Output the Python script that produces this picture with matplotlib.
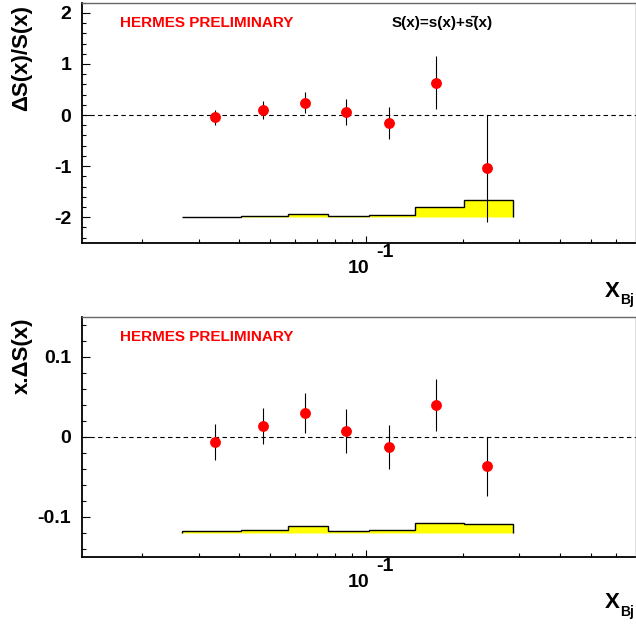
import matplotlib
matplotlib.use('Agg')
import matplotlib.pyplot as plt
from matplotlib.ticker import FixedLocator, NullFormatter, MultipleLocator, FuncFormatter

# data
x_bj = [0.0337, 0.0475, 0.0645, 0.0866, 0.1172, 0.165, 0.2372]
bin_edges = [0.0266, 0.0406, 0.057, 0.0757, 0.102, 0.1415, 0.201, 0.287]

ratio = [-0.045, 0.098, 0.24, 0.062, -0.157, 0.637, -1.045]       # dS/S
ratio_err = [0.147, 0.17, 0.206, 0.258, 0.32, 0.52, 1.045]
ratio_sys = [0.008, 0.026, 0.066, 0.022, 0.046, 0.19, 0.327]

xds = [-0.0069, 0.0133, 0.0292, 0.0069, -0.0131, 0.0398, -0.0369]  # x.dS
xds_err = [0.0227, 0.0229, 0.025, 0.0277, 0.0277, 0.0323, 0.0369]
xds_sys = [0.002, 0.0038, 0.0079, 0.0027, 0.0038, 0.0123, 0.0115]

plt.rcParams['font.family'] = ['Liberation Sans', 'DejaVu Sans']
plt.rcParams['font.weight'] = 'bold'
plt.rcParams['axes.unicode_minus'] = False

W, H = 636, 625
fig = plt.figure(figsize=(W / 100, H / 100), dpi=100)


def add_axes_px(l, t, r, b):
    return fig.add_axes([l / W, 1 - b / H, (r - l) / W, (b - t) / H])


def style(ax, ylim, major, minor):
    ax.set_xscale('log')
    ax.set_xlim(0.013, 0.69)
    ax.set_ylim(ylim)
    ax.xaxis.set_major_locator(FixedLocator([0.1]))
    ax.xaxis.set_minor_locator(FixedLocator([0.02, 0.03, 0.04, 0.05, 0.06, 0.07, 0.08, 0.09,
                                             0.2, 0.3, 0.4, 0.5, 0.6]))
    ax.xaxis.set_major_formatter(NullFormatter())
    ax.xaxis.set_minor_formatter(NullFormatter())
    ax.yaxis.set_major_locator(MultipleLocator(major))
    ax.yaxis.set_minor_locator(MultipleLocator(minor))
    ax.yaxis.set_major_formatter(FuncFormatter(lambda v, p: '%g' % round(v, 6)))
    ax.tick_params(which='both', direction='in', top=False, right=False, width=0.8, colors='black')
    ax.tick_params(axis='y', which='major', length=5.5, labelsize=14, pad=8)
    ax.tick_params(axis='y', which='minor', length=3)
    ax.tick_params(axis='x', which='major', length=5)
    ax.tick_params(axis='x', which='minor', length=2.7)
    for s in ['left', 'bottom']:
        ax.spines[s].set_linewidth(1.3)
        ax.spines[s].set_color('black')
    for s in ['top', 'right']:
        ax.spines[s].set_linewidth(1.0)
        ax.spines[s].set_color('#666666')
    ax.axhline(0, color='black', lw=0.8, ls=(0, (4, 3)), zorder=1)
    # 10^-1 label, ROOT style
    ax.annotate('10', xy=(0.1, 0), xycoords=('data', 'axes fraction'),
                xytext=(-5.5, -21.5), textcoords='offset points',
                ha='center', va='baseline', fontsize=14)
    ax.annotate('-1', xy=(0.1, 0), xycoords=('data', 'axes fraction'),
                xytext=(13, -10.3), textcoords='offset points',
                ha='center', va='baseline', fontsize=14)
    ax.text(0.068, 0.9, 'HERMES PRELIMINARY', transform=ax.transAxes,
            color='red', fontsize=11, ha='left', va='baseline')


def draw(ax, y, yerr, sys, base):
    tops = [base + h for h in sys]
    ax.stairs(tops, bin_edges, baseline=base, fill=True, facecolor='#ffff00',
              edgecolor='black', lw=1.0, zorder=2)
    ax.errorbar(x_bj, y, yerr=yerr, fmt='o', color='red', mec='red', ms=6.8,
                ecolor='black', elinewidth=0.8, capsize=0, zorder=3)


ax1 = add_axes_px(82.3, 2.7, 635.5, 242.7)
style(ax1, (-2.5, 2.2), 1, 0.2)
draw(ax1, ratio, ratio_err, ratio_sys, -2.0)
ax1.text(0.56, 0.897, 'S(x)=s(x)+s\u0304(x)', transform=ax1.transAxes,
         fontsize=11, ha='left', va='baseline')

ax2 = add_axes_px(82.3, 316.7, 635.5, 556.7)
style(ax2, (-0.15, 0.15), 0.1, 0.02)
draw(ax2, xds, xds_err, xds_sys, -0.12)

# axis titles
fig.text(22 / W, 1 - 5 / H, '\u0394S(x)/S(x)', rotation=90, fontsize=16, ha='center', va='top')
fig.text(22 / W, 1 - 317 / H, 'x.\u0394S(x)', rotation=90, fontsize=16, ha='center', va='top')
for xb in [296.7, 608.5]:
    fig.text(620 / W, 1 - xb / H, 'X', fontsize=16, ha='right', va='baseline')
    fig.text(620 / W, 1 - (xb + 7.5) / H, 'Bj', fontsize=10, ha='left', va='baseline')

fig.savefig('out.png', dpi=100)
